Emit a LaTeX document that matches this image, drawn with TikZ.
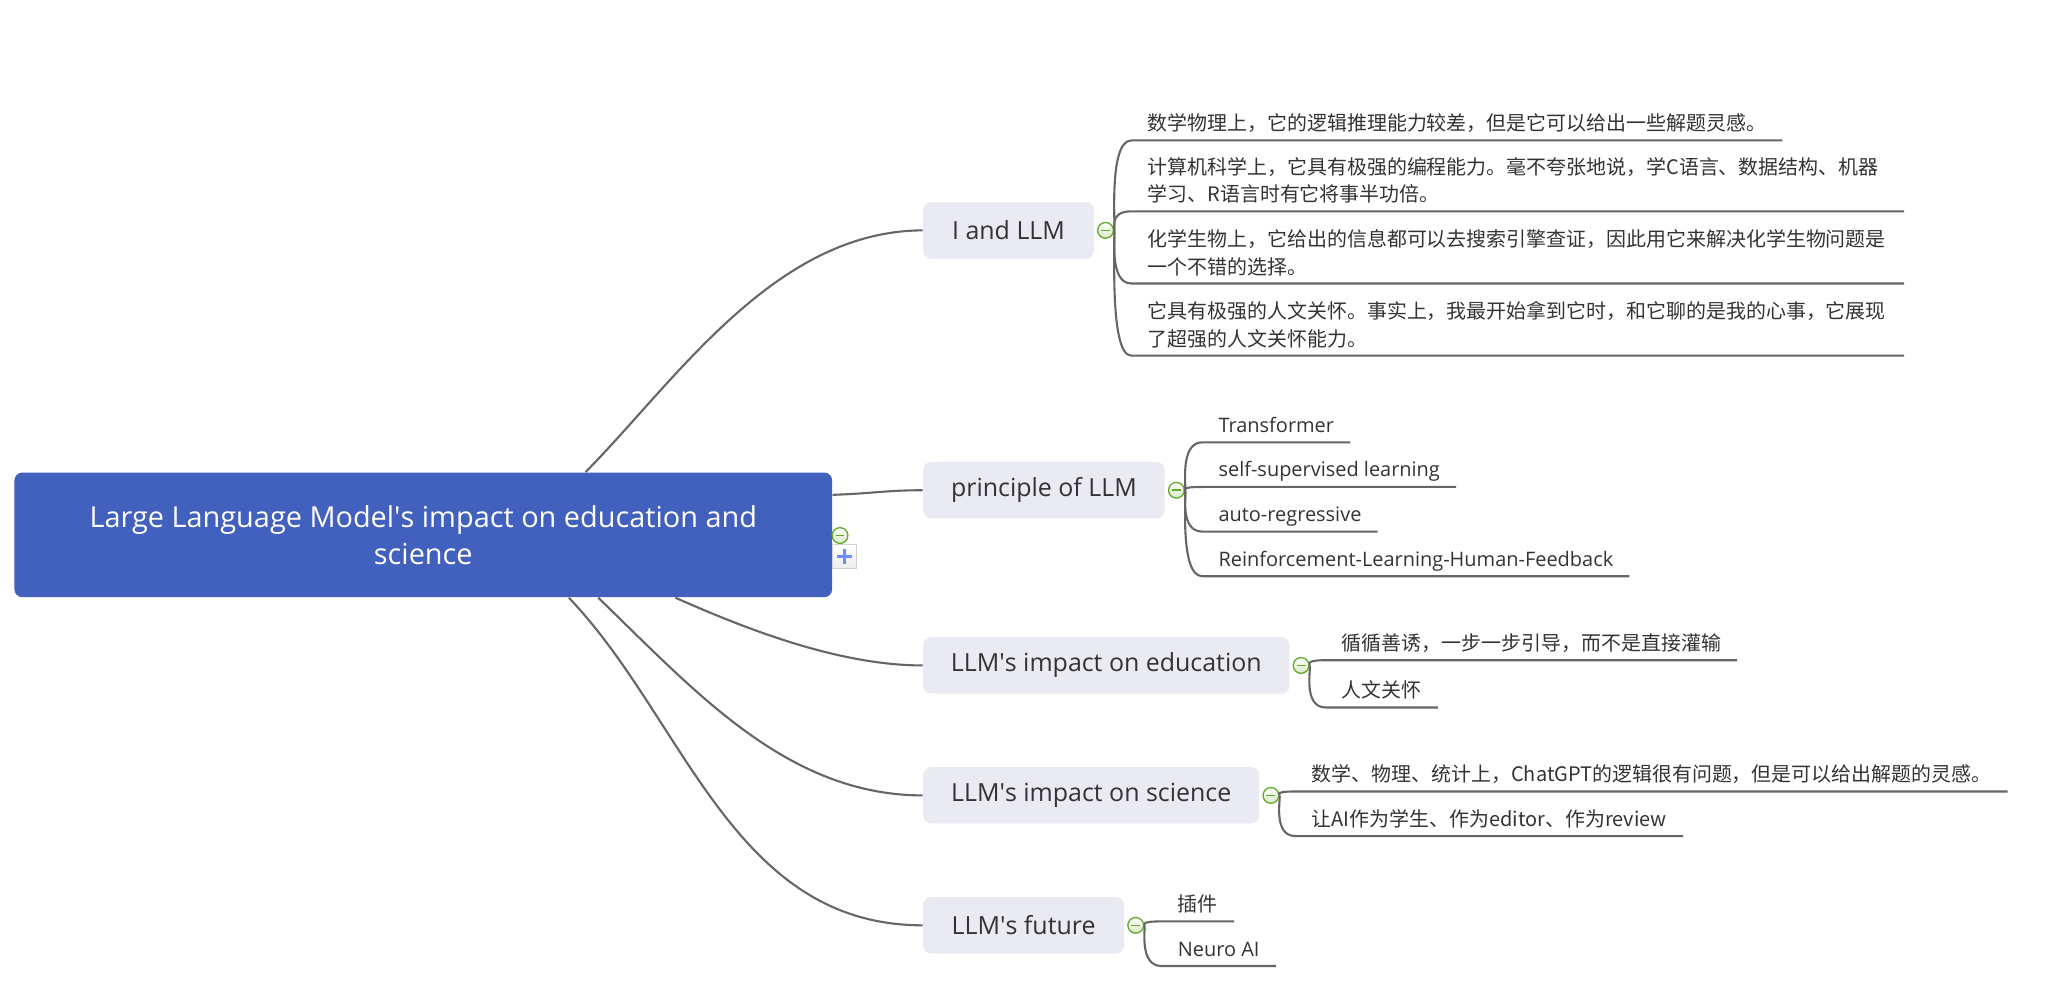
\documentclass[tikz,border=0pt]{standalone}
\usepackage{fontspec}
\setmainfont{Open Sans}
\newfontfamily\cjk{Noto Sans CJK SC}
\usetikzlibrary{positioning}
\definecolor{rootblue}{RGB}{66,96,189}
\definecolor{subgray}{RGB}{233,234,242}
\definecolor{linegray}{RGB}{102,102,102}
\definecolor{foldgreen}{RGB}{100,170,40}
\definecolor{textdark}{RGB}{51,51,51}
\definecolor{plusblue}{RGB}{110,140,255}

\begin{document}
\begin{tikzpicture}[x=0.5pt, y=-0.5pt] %1 Einheit = 1 Bildpunkt der Vorlage
\tikzstyle{topic} = [rectangle, rounded corners=3pt, fill=rootblue, text=white, minimum width=311.5pt, minimum height=47.5pt, align=center, font=\fontsize{11}{14}\selectfont]
\tikzstyle{subtopic} = [rectangle, rounded corners=3pt, fill=subgray, text=textdark, minimum height=21.5pt, anchor=west, font=\fontsize{9.5}{12}\selectfont]
\tikzstyle{leaf} = [anchor=south west, inner xsep=6pt, inner ysep=2.6pt, text depth=1pt, text=textdark, align=left, font=\fontsize{7.6}{10.5}\selectfont]
\tikzstyle{leaf2} = [leaf, text width=282pt, text depth=11.3pt]
\tikzstyle{fold} = [circle, draw=foldgreen, top color=white, bottom color=foldgreen!25, minimum size=6pt, inner sep=0pt, line width=0.5pt, path picture={\draw[foldgreen, line width=0.6pt] ([xshift=-1.7pt]path picture bounding box.center) -- ([xshift=1.7pt]path picture bounding box.center);}]
\tikzstyle{expand} = [rectangle, draw=gray!35, top color=white, bottom color=gray!15, minimum size=9pt, inner sep=0pt, line width=0.4pt, path picture={\draw[plusblue, line width=1.3pt] ([xshift=-2.8pt]path picture bounding box.center) -- ([xshift=2.8pt]path picture bounding box.center) ([yshift=-2.8pt]path picture bounding box.center) -- ([yshift=2.8pt]path picture bounding box.center);}]
\tikzstyle{link} = [draw=linegray, line width=0.8pt]

\useasboundingbox (0,0) rectangle (1568,766.5);

% Zentrum
\node[topic] (llm) at (322.5,407.5) {Large Language Model\textquotesingle s impact on education and\\ science};
\node[fold] (llm-f) at (640,408) {};
\node[expand] (llm-x) at (643.5,424) {};

% Hauptzweige
\node[subtopic, minimum width=65pt] (me) at (703,175.5) {I and LLM};
\node[subtopic, minimum width=92pt] (principle) at (703,373.5) {principle of LLM};
\node[subtopic, minimum width=139.5pt] (education) at (703,507) {LLM\textquotesingle s impact on education};
\node[subtopic, minimum width=128pt] (science) at (703,606) {LLM\textquotesingle s impact on science};
\node[subtopic, minimum width=76.5pt] (future) at (703,705) {LLM\textquotesingle s future};

\foreach \t in {me, principle, education, science, future}
\node[fold, right=1pt of \t] (\t-f) {};

\draw[link] ([xshift=217.8pt]llm.north west) .. controls (515,290) and (590,176) .. (me.west);
\draw[link] ([yshift=15.25pt]llm.east) .. controls (665,376) and (675,373.5) .. (principle.west);
\draw[link] ([xshift=252pt]llm.south west) .. controls (570,480) and (640,507) .. (education.west);
\draw[link] ([xshift=222.6pt]llm.south west) .. controls (530,527) and (600,606) .. (science.west);
\draw[link] ([xshift=211.4pt]llm.south west) .. controls (522,548) and (558,705) .. (future.west);

% Blaetter
\node[leaf] (m1) at (862,107) {\cjk 数学物理上，它的逻辑推理能力较差，但是它可以给出一些解题灵感。};
\node[leaf2] (m2) at (862,161) {\cjk 计算机科学上，它具有极强的编程能力。毫不夸张地说，学C语言、数据结构、机器\\ 学习、R语言时有它将事半功倍。};
\node[leaf2] (m3) at (862,216) {\cjk 化学生物上，它给出的信息都可以去搜索引擎查证，因此用它来解决化学生物问题是\\ 一个不错的选择。};
\node[leaf2] (m4) at (862,271) {\cjk 它具有极强的人文关怀。事实上，我最开始拿到它时，和它聊的是我的心事，它展现\\ 了超强的人文关怀能力。};

\node[leaf] (p1) at (916,337) {Transformer};
\node[leaf] (p2) at (916,371) {self-supervised learning};
\node[leaf] (p3) at (916,405) {auto-regressive};
\node[leaf] (p4) at (916,439) {Reinforcement-Learning-Human-Feedback};

\node[leaf] (e1) at (1010,503) {\cjk 循循善诱，一步一步引导，而不是直接灌输};
\node[leaf] (e2) at (1010,539) {\cjk 人文关怀};

\node[leaf] (s1) at (987,603) {\cjk 数学、物理、统计上，ChatGPT的逻辑很有问题，但是可以给出解题的灵感。};
\node[leaf] (s2) at (987,637) {\cjk 让AI作为学生、作为editor、作为review};

\node[leaf] (f1) at (885,702) {\cjk 插件};
\node[leaf] (f2) at (885,736) {Neuro AI};

\foreach \from/\to in {me-f/m1, me-f/m2, me-f/m3, me-f/m4, principle-f/p1, principle-f/p2, principle-f/p3, principle-f/p4, education-f/e1, education-f/e2, science-f/s1, science-f/s2, future-f/f1, future-f/f2}
\draw[link] (\from) .. controls +(8,0) and +(-18,0) .. (\to.south west) -- (\to.south east);
\end{tikzpicture}
\end{document}
